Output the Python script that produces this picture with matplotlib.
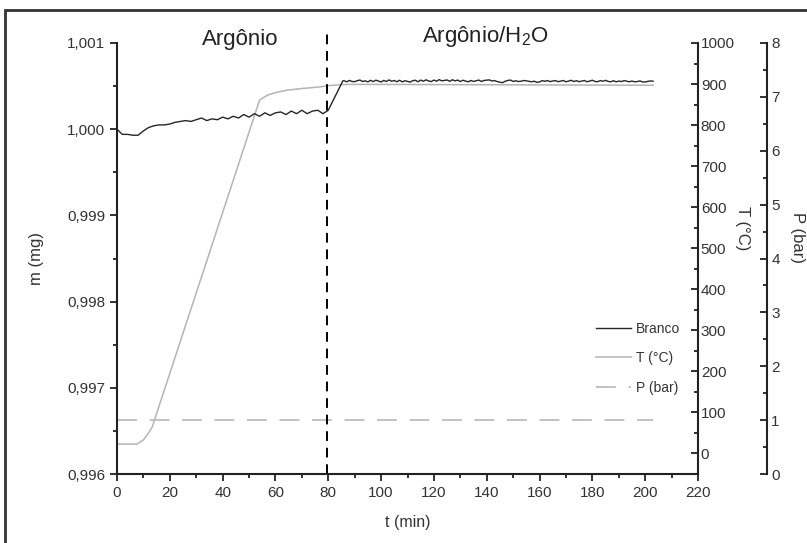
import numpy as np
import matplotlib
matplotlib.use("Agg")
import matplotlib.pyplot as plt
from matplotlib.ticker import MultipleLocator, FuncFormatter
from matplotlib.patches import Rectangle

plt.rcParams['font.family'] = ['Liberation Sans', 'DejaVu Sans']
plt.rcParams['mathtext.fontset'] = 'custom'
plt.rcParams['mathtext.rm'] = 'Liberation Sans'

# Branco mass (mg), argon stage
t_argon = [0, 1, 2, 4, 6, 8, 10, 12, 14, 16, 18, 20, 22, 24, 26, 28, 30, 32, 34, 36,
           38, 40, 42, 44, 46, 48, 50, 52, 54, 56, 58, 60, 62, 64, 66, 68, 70, 72,
           74, 76, 78, 80]
m_argon = [1.00000, 0.99997, 0.99994, 0.99994, 0.99993, 0.99993, 0.99998, 1.00002,
           1.00004, 1.00005, 1.00005, 1.00006, 1.00008, 1.00009, 1.00010, 1.00009,
           1.00011, 1.00013, 1.00010, 1.00012, 1.00011, 1.00014, 1.00012, 1.00015,
           1.00013, 1.00017, 1.00014, 1.00018, 1.00015, 1.00019, 1.00016, 1.00019,
           1.00020, 1.00017, 1.00021, 1.00018, 1.00022, 1.00018, 1.00021, 1.00022,
           1.00018, 1.00022]

# Branco mass (mg), argon/H2O stage, in 1e-5 mg above 1.0005
t_h2o = np.arange(86, 204)
m_h2o_off = [6.2, 5.0, 6.6, 5.4, 5.1, 6.4, 7.0, 5.3, 6.1, 4.9,
             6.7, 5.2, 6.9, 5.8, 4.8, 6.6, 5.3, 7.2, 5.6, 6.5,
             5.0, 6.8, 4.9, 6.2, 5.4, 4.7, 6.3, 6.8, 5.0, 7.0,
             5.6, 7.3, 6.0, 5.2, 7.0, 5.7, 7.5, 6.1, 6.6, 7.1,
             5.5, 7.4, 6.0, 7.0, 5.3, 6.8, 5.8, 5.0, 6.5, 5.4,
             6.2, 7.0, 5.3, 6.6, 6.9, 7.2, 5.9, 6.4, 5.2, 4.5,
             4.0, 5.6, 6.6, 7.0, 5.4, 6.2, 5.3, 5.6, 6.5, 6.1,
             5.5, 5.0, 5.7, 4.3, 4.9, 6.3, 5.6, 6.4, 5.2, 5.9,
             6.4, 5.1, 5.8, 6.5, 5.0, 5.9, 6.7, 5.3, 6.3, 5.1,
             5.8, 6.5, 5.0, 5.9, 6.8, 5.4, 5.1, 6.4, 5.6, 6.7,
             5.4, 5.0, 6.3, 4.9, 5.9, 5.2, 6.4, 5.7, 5.0, 5.9,
             4.9, 5.3, 6.0, 4.9, 4.7, 5.5, 6.0, 5.7]

# Temperature (°C)
t_temp = [0, 7.6, 10, 11.4, 13.3, 54, 57, 60, 64.5, 70, 77, 80, 86, 100, 150, 203]
temp = [22, 22, 32, 44, 63, 861, 873, 879, 885, 889, 893, 896, 899, 899, 898, 897]

# Pressure (bar)
t_pres = [0, 203]
pres = [1, 1]

t_branco = t_argon + [85.5] + list(t_h2o)
m_branco = m_argon + [1.00056] + [1.0005 + v * 1e-5 for v in m_h2o_off]

W, H = 807, 543
fig = plt.figure(figsize=(W / 100, H / 100), dpi=100)
x0, x1, y0, y1 = 117, 698, 474, 43
ax = fig.add_axes([x0 / W, 1 - y0 / H, (x1 - x0) / W, (y0 - y1) / H])
ax_t = ax.twinx()
ax_p = ax.twinx()

txt = '#333333'
fs = 11

# Main axis (mass)
ax.plot(t_branco, m_branco, color='#262626', lw=1.0, label='Branco')
ax.set_xlim(0, 220)
ax.set_ylim(0.996, 1.001)
ax.xaxis.set_major_locator(MultipleLocator(20))
ax.xaxis.set_minor_locator(MultipleLocator(10))
ax.yaxis.set_major_locator(MultipleLocator(0.001))
ax.yaxis.set_minor_locator(MultipleLocator(0.0005))
ax.yaxis.set_major_formatter(FuncFormatter(lambda v, p: f'{v:.3f}'.replace('.', ',')))
ax.tick_params(which='major', direction='out', length=5, width=1.3, labelsize=fs,
               labelcolor=txt, color='#222222')
ax.tick_params(which='minor', direction='out', length=3, width=1.3, color='#222222')
for s in ['top', 'right']:
    ax.spines[s].set_visible(False)
for s in ['left', 'bottom']:
    ax.spines[s].set_linewidth(1.5)
    ax.spines[s].set_color('#222222')
ax.set_xlabel('t (min)', fontsize=11.5, color=txt)
ax.xaxis.set_label_coords(0.5, -0.095)
ax.set_ylabel('m (mg)', fontsize=12, color=txt)
ax.yaxis.set_label_coords(-0.125, 0.5)

# Temperature axis
ax_t.plot(t_temp, temp, color='#b4b4b4', lw=1.1, label='T (°C)')
ax_t.set_ylim(-51, 1000)
ax_t.yaxis.set_major_locator(MultipleLocator(100))
ax_t.yaxis.set_minor_locator(MultipleLocator(50))
ax_t.tick_params(which='major', direction='in', length=5, width=1.3, labelsize=fs,
                 labelcolor=txt, color='#222222', pad=2)
ax_t.tick_params(which='minor', direction='in', length=3, width=1.3, color='#222222')
for s in ['top', 'left', 'bottom']:
    ax_t.spines[s].set_visible(False)
ax_t.spines['right'].set_linewidth(1.5)
ax_t.spines['right'].set_color('#222222')
ax_t.set_ylabel('T (°C)', fontsize=12, color=txt, rotation=-90)
ax_t.yaxis.set_label_coords(1.09, 0.571)

# Pressure axis
ax_p.plot(t_pres, pres, color='#bdbdbd', lw=1.3, ls=(0, (11, 7)), label='P (bar)')
ax_p.set_ylim(0, 8)
ax_p.spines['right'].set_position(('axes', (767 - x0) / (x1 - x0)))
ax_p.yaxis.set_major_locator(MultipleLocator(1))
ax_p.yaxis.set_minor_locator(MultipleLocator(0.5))
ax_p.tick_params(which='major', direction='in', length=5, width=1.3, labelsize=fs,
                 labelcolor=txt, color='#222222', pad=3)
ax_p.tick_params(which='minor', direction='in', length=3, width=1.3, color='#222222')
for s in ['top', 'left', 'bottom']:
    ax_p.spines[s].set_visible(False)
ax_p.spines['right'].set_linewidth(1.5)
ax_p.spines['right'].set_color('#222222')
ax_p.set_ylabel('P (bar)', fontsize=12, color=txt, rotation=-90)
ax_p.yaxis.set_label_coords(1.185, 0.548)

# keep the mass curve on top
ax.set_zorder(ax_p.get_zorder() + 1)
ax.patch.set_visible(False)

# stage separator and labels
ax.axvline(79.5, ymin=0, ymax=1.03, color='black', lw=1.4, ls=(0, (5, 3.5)), clip_on=False)
ax.text(46.7, 1.007, 'Argônio', transform=ax.get_xaxis_transform(), ha='center',
        va='center', fontsize=16, color='#222222')
ax.text(139.6, 1.016, 'Argônio/H$_\\mathregular{2}$O', transform=ax.get_xaxis_transform(),
        ha='center', va='center', fontsize=16, color='#222222')

# legend
handles = [ax.lines[0], ax_t.lines[0], ax_p.lines[0]]
leg = fig.legend(handles, [h.get_label() for h in handles], loc='upper left',
                 bbox_to_anchor=(596 / W, 1 - 322 / H), frameon=False, fontsize=10,
                 handlelength=2.5, handletextpad=0.35, labelspacing=1.1, borderpad=0,
                 borderaxespad=0)
for t in leg.get_texts():
    t.set_color(txt)

# figure frame
fig.patches.append(Rectangle((5 / W, -0.2), 1.2, 1.2 - 10 / H, transform=fig.transFigure,
                             fill=False, lw=2, edgecolor='#333333'))

fig.savefig('out.png', dpi=100)
